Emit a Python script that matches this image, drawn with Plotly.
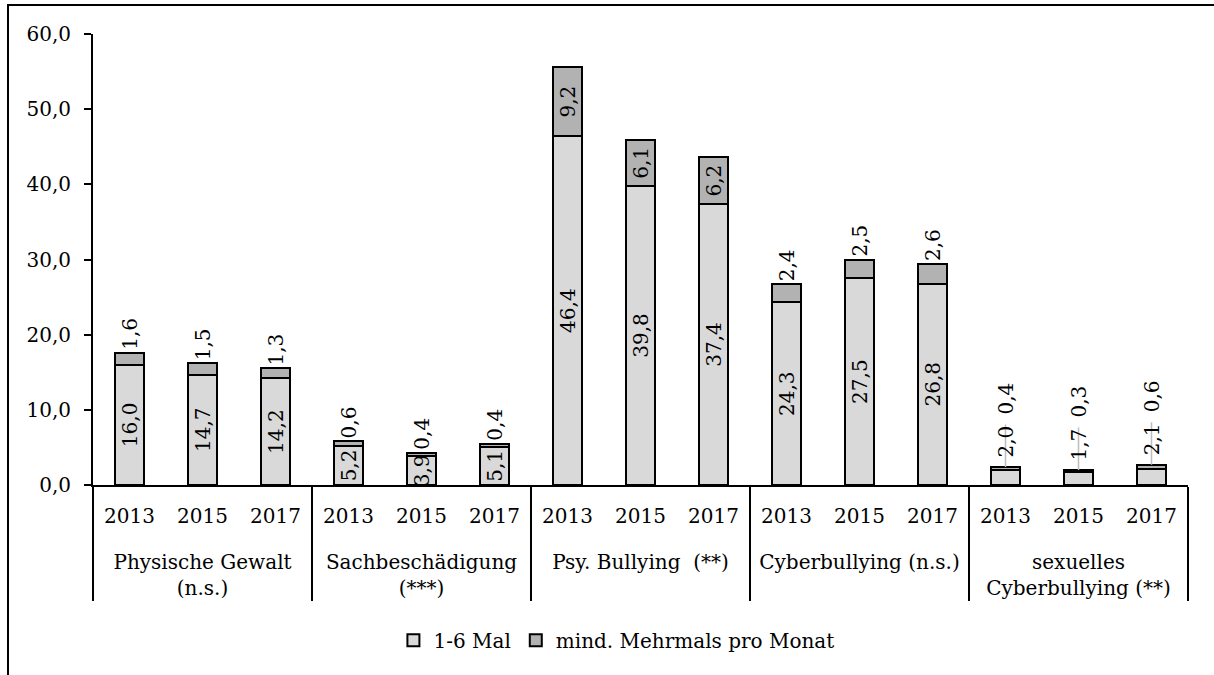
import plotly.graph_objects as go

groups = ["Physische Gewalt<br>(n.s.)", "Sachbeschädigung<br>(***)", "Psy. Bullying  (**)",
          "Cyberbullying (n.s.)", "sexuelles<br>Cyberbullying (**)"]
years = ["2013", "2015", "2017"]
series_names = ["1-6 Mal", "mind. Mehrmals pro Monat"]
low_vals = [16.0, 14.7, 14.2, 5.2, 3.9, 5.1, 46.4, 39.8, 37.4, 24.3, 27.5, 26.8, 2.0, 1.7, 2.1]
high_vals = [1.6, 1.5, 1.3, 0.6, 0.4, 0.4, 9.2, 6.1, 6.2, 2.4, 2.5, 2.6, 0.4, 0.3, 0.6]
y_ticks = [0, 10, 20, 30, 40, 50, 60]

FONT = "DejaVu Serif"
FS = 20
LIGHT = "#d9d9d9"
DARK = "#b2b2b2"

xg = [g for g in groups for _ in years]
# an extra empty line under each year pushes the group row down like in the original
xy = [y + "<br><span style='font-size:46px'> </span>" for _ in groups for y in years]

def fmt(v):
    return f"{v:.1f}".replace(".", ",")

# label placement rules
low_pos = ["inside" if lo >= 3 else "none" for lo in low_vals]
high_pos = []
for lo, hi in zip(low_vals, high_vals):
    if lo < 3:
        high_pos.append("none")
    elif hi >= 5:
        high_pos.append("inside")
    else:
        high_pos.append("outside")

fig = go.Figure()
fig.add_trace(go.Bar(
    x=[xg, xy], y=low_vals, name=series_names[0],
    marker=dict(color=LIGHT, line=dict(color="black", width=2)),
    text=[fmt(v) for v in low_vals], textposition=low_pos, textangle=-90,
    insidetextanchor="middle",
    textfont=dict(family=FONT, size=FS, color="black"),
))
fig.add_trace(go.Bar(
    x=[xg, xy], y=high_vals, name=series_names[1],
    marker=dict(color=DARK, line=dict(color="black", width=2)),
    text=[fmt(v) for v in high_vals], textposition=high_pos, textangle=-90,
    insidetextanchor="middle",
    textfont=dict(family=FONT, size=FS, color="black"),
))

# small bars: labels above with leader lines
for g, yr, lo, hi in zip(xg, xy, low_vals, high_vals):
    if lo < 3:
        tot = lo + hi
        fig.add_annotation(x=[g, yr], y=tot, text="", showarrow=True, arrowhead=0,
                           ax=0, ay=-44, arrowcolor="#bdbdbd", arrowwidth=1.5, standoff=0)
        fig.add_annotation(x=[g, yr], y=tot, text=fmt(lo), showarrow=False, textangle=-90,
                           yanchor="bottom", yshift=7,
                           font=dict(family=FONT, size=FS, color="black"))
        fig.add_annotation(x=[g, yr], y=tot, text=fmt(hi), showarrow=False, textangle=-90,
                           yanchor="bottom", yshift=50,
                           font=dict(family=FONT, size=FS, color="black"))

fig.update_layout(
    width=1214, height=675,
    margin=dict(l=93, r=26, t=34, b=190),
    barmode="stack", bargap=0.6,
    separators=",.",
    paper_bgcolor="white", plot_bgcolor="white",
    font=dict(family=FONT, size=FS, color="black"),
    uniformtext=dict(minsize=FS, mode="show"),
    showlegend=True,
    legend=dict(orientation="h", x=0.478, xanchor="center", y=-0.344, yanchor="middle",
                traceorder="normal", font=dict(family=FONT, size=FS, color="black")),
)
fig.update_xaxes(
    type="multicategory", showline=True, linecolor="black", linewidth=2,
    showgrid=False, ticks="", showdividers=True, dividercolor="black", dividerwidth=2,
    ticklabelstandoff=12,
    tickfont=dict(family=FONT, size=FS, color="black"),
)
fig.update_yaxes(
    range=[0, 60], tickvals=y_ticks, tickformat=".1f", showline=True, linecolor="black",
    linewidth=2, ticks="outside", ticklen=7, tickwidth=2, tickcolor="black",
    showgrid=False, zeroline=False, ticklabelstandoff=9,
    tickfont=dict(family=FONT, size=FS, color="black"),
)
# outer chart frame
fig.add_shape(type="rect", xref="paper", yref="paper",
              x0=(8 - 93) / 1095, x1=(1230 - 93) / 1095,
              y0=-0.45, y1=1 + (34 - 5) / 451,
              line=dict(color="black", width=2), layer="below")

fig.write_html("out.html", config={"displayModeBar": False},
               post_script="document.body.style.margin='0';")
